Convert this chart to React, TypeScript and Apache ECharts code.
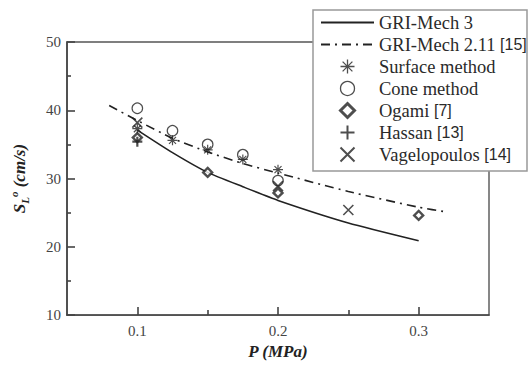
import React, { useEffect, useRef } from 'react';
import * as echarts from 'echarts';

// GRI-Mech 3 (solid line)
const gri3P = [0.1, 0.125, 0.15, 0.175, 0.2, 0.25, 0.3];
const gri3S = [37.1, 33.8, 30.9, 28.8, 26.8, 23.5, 20.9];
// GRI-Mech 2.11 [15] (dash-dot line)
const gri211P = [0.08, 0.1, 0.125, 0.15, 0.175, 0.2, 0.25, 0.3, 0.32];
const gri211S = [40.7, 38.5, 35.9, 33.9, 32.2, 30.8, 28.1, 25.8, 25.1];
// measurements
const surfaceP = [0.1, 0.125, 0.15, 0.175, 0.2];
const surfaceS = [37.3, 35.6, 34.2, 32.8, 31.3];
const coneP = [0.1, 0.125, 0.15, 0.175, 0.2];
const coneS = [40.3, 37.0, 35.0, 33.5, 29.7];
const ogamiP = [0.1, 0.15, 0.2, 0.3];
const ogamiS = [36.0, 30.9, 27.9, 24.6];
const hassanP = [0.1];
const hassanS = [35.4];
const vageP = [0.1, 0.2, 0.25];
const vageS = [38.2, 28.9, 25.4];

const xMajorTicks = [0.1, 0.2, 0.3];
const xMinorTicks = [0.15, 0.25];

const SERIF = '"Liberation Serif", "Times New Roman", Times, serif';
const SANS = '"Liberation Sans", Arial, sans-serif';
const INK = '#222';

const pairs = (xs: number[], ys: number[]) => xs.map((x, i) => [x, ys[i]]);

const ASTERISK = 'path://M5,0 L5,10 M0,5 L10,5 M1.5,1.5 L8.5,8.5 M8.5,1.5 L1.5,8.5';
const PLUS = 'path://M5,0 L5,10 M0,5 L10,5';
const CROSS = 'path://M0,0 L10,10 M10,0 L0,10';
const DIAMOND = 'path://M5,0 L10,5 L5,10 L0,5 Z';

export default function App() {
  const ref = useRef<HTMLDivElement>(null);
  useEffect(() => {
    if (!ref.current) return;
    const chart = echarts.init(ref.current, null, { renderer: 'svg' });
    const axisLineStyle = { color: '#444', width: 1.6 };
    const hidden = { color: 'rgba(0,0,0,0)', borderWidth: 0, opacity: 0 };
    const option: any = {
      animation: false,
      backgroundColor: '#fff',
      grid: {
        left: 59, right: 40, top: 42, bottom: 42,
        show: true, borderColor: '#555', borderWidth: 1.4, backgroundColor: 'transparent',
      },
      legend: {
        orient: 'vertical',
        left: 320, top: 13, padding: 0,
        itemWidth: 53, itemHeight: 14, itemGap: 3,
        z: 12,
        textStyle: {
          fontFamily: SERIF, fontSize: 18.5, color: '#2a2a2a', lineHeight: 18,
          rich: {
            t: { fontFamily: SERIF, fontSize: 18.5, color: '#2a2a2a', lineHeight: 18 },
            r: { fontFamily: SANS, fontSize: 16, color: '#2a2a2a', lineHeight: 18 },
          },
        },
        formatter: (name: string) => {
          const i = name.indexOf(' [');
          if (i < 0) return `{t|${name}}`;
          return `{t|${name.slice(0, i)}} {r|${name.slice(i + 1)}}`;
        },
        data: [
          { name: 'GRI-Mech 3', itemStyle: hidden },
          { name: 'GRI-Mech 2.11 [15]', itemStyle: hidden },
          { name: 'Surface method', itemStyle: { color: INK, borderColor: INK, borderWidth: 1.3 } },
          { name: 'Cone method', itemStyle: { color: 'rgba(0,0,0,0)', borderColor: INK, borderWidth: 1.3 } },
          { name: 'Ogami [7]', icon: DIAMOND, itemStyle: { color: '#fff', borderColor: INK, borderWidth: 3 } },
          { name: 'Hassan [13]', itemStyle: { color: INK, borderColor: INK, borderWidth: 2 } },
          { name: 'Vagelopoulos [14]', itemStyle: { color: INK, borderColor: INK, borderWidth: 2 } },
        ],
      },
      graphic: [
        {
          type: 'rect', z: 10,
          shape: { x: 313, y: 10, width: 214, height: 161 },
          style: { fill: '#fff', stroke: '#999', lineWidth: 1.5 },
        },
      ],
      xAxis: [
        {
          type: 'value', min: 0.05, max: 0.35,
          name: 'P (MPa)', nameLocation: 'middle', nameGap: 23,
          nameTextStyle: { fontFamily: SERIF, fontSize: 17, fontWeight: 'bold', fontStyle: 'italic', color: '#222' },
          axisLine: { show: true, lineStyle: axisLineStyle },
          axisTick: { show: true, inside: true, length: 8, customValues: xMajorTicks, lineStyle: axisLineStyle },
          axisLabel: {
            customValues: xMajorTicks, margin: 8,
            fontFamily: SERIF, fontSize: 15, color: '#444',
            formatter: (v: number) => v.toFixed(1),
          },
          splitLine: { show: false },
        },
        {
          type: 'value', min: 0.05, max: 0.35, position: 'bottom',
          axisLine: { show: false },
          axisTick: { show: true, inside: true, length: 5, customValues: xMinorTicks, lineStyle: axisLineStyle },
          axisLabel: { show: false },
          splitLine: { show: false },
        },
      ],
      yAxis: {
        type: 'value', min: 10, max: 50, interval: 10,
        name: '{s|S}{sub|L}{sup|o}{u| (cm/s)}',
        nameLocation: 'middle', nameGap: 37,
        nameTextStyle: {
          rich: {
            s: { fontFamily: SERIF, fontSize: 17, fontWeight: 'bold', fontStyle: 'italic', color: '#222', lineHeight: 22 },
            sub: { fontFamily: SERIF, fontSize: 11, fontWeight: 'bold', fontStyle: 'italic', color: '#222', lineHeight: 11, verticalAlign: 'bottom' },
            sup: { fontFamily: SERIF, fontSize: 11, fontWeight: 'bold', fontStyle: 'italic', color: '#222', lineHeight: 11, verticalAlign: 'top' },
            u: { fontFamily: SERIF, fontSize: 17, fontWeight: 'bold', fontStyle: 'italic', color: '#222', lineHeight: 22 },
          },
        },
        axisLine: { show: true, lineStyle: axisLineStyle },
        axisTick: { show: true, inside: true, length: 8, lineStyle: axisLineStyle },
        minorTick: { show: true, splitNumber: 2, length: 4, lineStyle: axisLineStyle },
        axisLabel: { margin: 6, fontFamily: SERIF, fontSize: 15, color: '#444' },
        splitLine: { show: false },
      },
      series: [
        {
          name: 'GRI-Mech 3', type: 'line', data: pairs(gri3P, gri3S),
          symbol: 'none', smooth: 0.2, z: 3,
          lineStyle: { color: INK, width: 1.6 }, itemStyle: { color: INK },
        },
        {
          name: 'GRI-Mech 2.11 [15]', type: 'line', data: pairs(gri211P, gri211S),
          symbol: 'none', smooth: 0.2, z: 3,
          lineStyle: { color: INK, width: 1.6, type: [9, 5, 2, 5] }, itemStyle: { color: INK },
        },
        {
          name: 'Surface method', type: 'scatter', data: pairs(surfaceP, surfaceS),
          symbol: ASTERISK, symbolSize: 10, z: 4,
          itemStyle: { color: INK, borderColor: INK, borderWidth: 1.2 },
        },
        {
          name: 'Cone method', type: 'scatter', data: pairs(coneP, coneS),
          symbol: 'circle', symbolSize: 10.5, z: 4,
          itemStyle: { color: 'rgba(0,0,0,0)', borderColor: INK, borderWidth: 1.2 },
        },
        {
          name: 'Ogami [7]', type: 'scatter', data: pairs(ogamiP, ogamiS),
          symbol: DIAMOND, symbolSize: 9, z: 5,
          itemStyle: { color: '#fff', borderColor: INK, borderWidth: 2.4 },
        },
        {
          name: 'Hassan [13]', type: 'scatter', data: pairs(hassanP, hassanS),
          symbol: PLUS, symbolSize: 10, z: 5,
          itemStyle: { color: INK, borderColor: INK, borderWidth: 2.2 },
        },
        {
          name: 'Vagelopoulos [14]', type: 'scatter', data: pairs(vageP, vageS),
          symbol: CROSS, symbolSize: 10, z: 4,
          itemStyle: { color: INK, borderColor: INK, borderWidth: 1.6 },
        },
      ],
    };
    chart.setOption(option);
    return () => chart.dispose();
  }, []);
  return (
    <div
      ref={ref}
      style={{ position: 'fixed', left: 0, top: 0, width: 529, height: 365, background: '#fff' }}
    />
  );
}
